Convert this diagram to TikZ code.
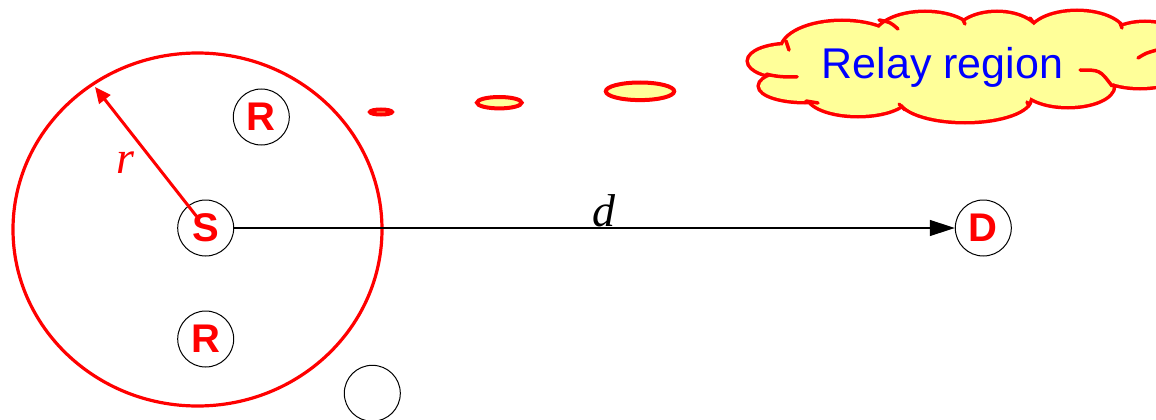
\documentclass[tikz,border=0pt]{standalone}
\usepackage{fontspec}
\setmainfont{Liberation Sans}
\newfontfamily\tms{Liberation Serif}
\usetikzlibrary{arrows.meta}
\definecolor{pale}{HTML}{FFFF99}
\definecolor{rred}{HTML}{FF0000}
\definecolor{bblue}{HTML}{0000FF}
\begin{document}
\begin{tikzpicture}[x=1pt,y=-1pt,
  nd/.style={circle,draw=black,line width=1pt,minimum size=56pt,inner sep=0pt,
    text=rred,font=\fontsize{40}{42}\selectfont\bfseries},
  blob/.style={draw=rred,line width=4pt,fill=pale},
  redline/.style={draw=rred,line width=3.5pt,line cap=round},
  italab/.style={text=#1,font=\tms\itshape\fontsize{46}{48}\selectfont,inner sep=0pt,anchor=base},
  ]
\useasboundingbox (0,0) rectangle (1156,420);

% coverage circle
\draw[rred,line width=3.2pt] (197.5,229.5) ellipse [x radius=184.5,y radius=176.5];

% relay growth blobs
\draw[blob] (381,112) ellipse [x radius=11,y radius=2.5];
\draw[blob] (499.3,102.7) ellipse [x radius=22.3,y radius=5.7];
\draw[blob] (640,91.3) ellipse [x radius=34.2,y radius=8.8];

% cloud
\def\bumps{790/61/41/16, 805/86/45/15, 858/95/50/20, 965/98/65/23, 1068/86/45/20, 1140/72/40/15, 1145/50/45/27, 1077/36/48/24, 997/37/42/24, 925/38/50/25, 842/50/60/28}
\foreach \cx/\cy/\rx/\ry in \bumps {\draw[rred,line width=7pt] (\cx,\cy) ellipse [x radius=\rx,y radius=\ry];}
\foreach \cx/\cy/\rx/\ry in \bumps {\fill[pale] (\cx,\cy) ellipse [x radius=\rx,y radius=\ry];}
\fill[pale] (955,66) ellipse [x radius=170,y radius=35];
\draw[redline] (790,61) ++(125:41 and 16) arc[start angle=125,end angle=80,x radius=41,y radius=16];
\draw[redline] (1080,70) .. controls (1100,70) .. (1112,86);
\draw[redline] (879,20) .. controls (890,22) .. (898,29);
\draw[redline] (1138,58) .. controls (1146,53) .. (1157,50);
\draw[redline] (786,41) -- (789,50);
\draw[redline] (806,101) -- (818,103);
\draw[redline] (899,104) -- (905,110);
\draw[redline] (1027,102) -- (1029,106);
\draw[redline] (1120,23) -- (1122,28);
\draw[redline] (1030,18) -- (1033,22);
\draw[redline] (963,20) -- (965,24);
\node[text=bblue,font=\fontsize{43}{45}\selectfont,inner sep=0pt,anchor=base] (relay) at (942.5,78) {Relay region};

% nodes
\node[nd] (S) at (205.7,228) {S};
\node[nd] (R1) at (261.3,117) {R};
\node[nd] (R2) at (205.7,339) {R};
\node[nd] (E) at (372.3,393.3) {};
\node[nd] (D) at (983.3,228) {D};

% connectors
\draw[line width=1.2pt,-{Triangle[length=25pt,width=16pt]}] (S) -- (D);
\coordinate (rt) at (95,87);
\draw[rred,line width=3pt,shorten <=15pt,-{Triangle[length=16pt,width=14pt]}] (S.center) -- (rt);

% labels
\node[italab=rred] (rl) at (125,173) {r};
\node[italab=black] (dl) at (604,226) {d};
\end{tikzpicture}
\end{document}
